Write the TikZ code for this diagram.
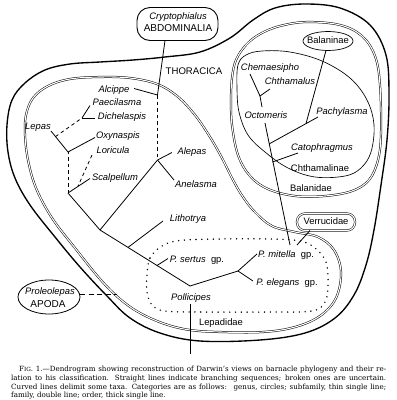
\documentclass[tikz,border=0pt]{standalone}
\usepackage{fontspec}
\newfontfamily\lab{Liberation Sans}
\newfontfamily\capfont[Ligatures=TeX]{DejaVu Serif}
\usetikzlibrary{shapes.geometric}
\begin{document}
\begin{tikzpicture}[x=1pt,y=-1pt,
  lbl/.style={inner sep=0pt, anchor=mid, font=\lab\fontsize{9.4}{10}\selectfont},
  it/.style={lbl, font=\lab\itshape\fontsize{9.4}{10}\selectfont},
  capsl/.style={lbl, font=\lab\fontsize{10}{11}\selectfont},
  branch/.style={line width=0.8pt},
  brokenbranch/.style={line width=0.8pt, dash pattern=on 3.5pt off 3pt},
  orderline/.style={line width=1.35pt},
  familyline/.style={double, double distance=1.1pt, line width=0.5pt},
  subfamline/.style={line width=0.65pt},
  genusline/.style={line width=1.6pt, dash pattern=on 0pt off 5.8pt, line cap=round},
  capline/.style={anchor=base west, inner sep=0pt, font=\capfont\fontsize{7.15}{8}\selectfont}
]
\fill[white] (0,0) rectangle (397,400);
\useasboundingbox (0,0) rectangle (397,400);

% order THORACICA (thick single line)
\draw[orderline] plot[smooth cycle, tension=0.6] coordinates {
 (200,52) (165,57) (133,60) (100,62) (70,64) (45,70) (25,83) (12,100) (7,125) (8,152)
 (15,178) (30,205) (55,237) (80,267) (107,296) (130,318) (160,333) (200,341) (260,340)
 (305,333) (335,318) (354,295) (366,265) (374,230) (381,185) (387,140) (389,95) (386,55)
 (370,25) (340,8) (305,4) (275,8) (253,20) (230,38)};

% family Lepadidae (double line)
\draw[familyline] plot[smooth cycle, tension=0.6] coordinates {
 (157,84) (130,78) (100,77) (70,79) (48,86) (33,98) (26,115) (25,135) (28,160) (36,188)
 (52,218) (75,248) (100,279) (120,299) (140,313) (165,324) (190,330) (220,332) (263,332)
 (295,327) (320,316) (336,298) (341,272) (334,250) (318,237) (295,232) (272,226) (255,212)
 (243,197) (233,180) (222,158) (210,137) (195,115) (177,96)};

% family Balanidae (double line)
\draw[familyline] plot[smooth cycle, tension=0.6] coordinates {
 (232,78) (236,60) (246,45) (260,34) (280,26) (307,22) (340,25) (362,36) (375,56) (380,85)
 (381,133) (378,160) (369,180) (352,191) (325,196) (295,196) (268,189) (250,176) (238,155)
 (232,125) (231,100)};

% subfamily Chthamalinae (thin single line)
\draw[subfamline] plot[smooth cycle, tension=0.6] coordinates {
 (238,65) (246,55) (262,51) (290,52) (322,61) (350,78) (367,100) (374,125) (371,152)
 (361,168) (345,176) (315,177) (288,168) (265,152) (248,135) (239,112) (237,88)};

% genus Pollicipes (dotted)
\draw[genusline] plot[smooth cycle, tension=0.6] coordinates {
 (147,275) (150,258) (162,246) (180,240.5) (220,239) (270,239) (300,241) (315,248)
 (326,262) (328,285) (325,302) (312,311) (270,312) (200,312) (165,311) (152,305) (147,292)};

% boxed taxa
\node[draw, line width=0.9pt, rounded corners=13pt, minimum width=81pt, minimum height=33pt, inner sep=0pt] (abdbox) at (177.5,24) {};
\node[it] (crypto) at (178,17) {Cryptophialus};
\node[capsl] (abdom) at (178,29.5) {ABDOMINALIA};

\node[draw, ellipse, line width=0.8pt, minimum width=62pt, minimum height=34pt, inner sep=0pt] (apobox) at (49,297) {};
\node[it] (prol) at (50,292) {Proleolepas};
\node[capsl] (apoda) at (48,305) {APODA};

\node[draw, ellipse, line width=0.7pt, minimum width=50pt, minimum height=19pt, inner sep=0pt] (balbox) at (328,41) {};
\node[lbl] (bal) at (328,41) {Balaninae};

\node[draw, double, double distance=1.1pt, line width=0.5pt, rounded corners=8pt, minimum width=58pt, minimum height=17pt, inner sep=0pt] (verbox) at (326,222) {};
\node[lbl] (ver) at (326,222) {Verrucidae};

% labels
\node[lbl, font=\lab\fontsize{9.6}{10}\selectfont] (thor) at (194,72) {THORACICA};
\node[it] (alc) at (114,90) {Alcippe};
\node[it] (pae) at (117,103) {Paecilasma};
\node[it] (dic) at (122,117) {Dichelaspis};
\node[it] (lep) at (38,127) {Lepas};
\node[it] (oxy) at (118,136) {Oxynaspis};
\node[it] (lor) at (113,151) {Loricula};
\node[it] (sca) at (115,178) {Scalpellum};
\node[it] (ale) at (192,152) {Alepas};
\node[it] (ane) at (196,185) {Anelasma};
\node[it] (lit) at (188,219) {Lithotrya};
\node[lbl] (ser) at (197,260) {\itshape P. sertus\upshape\ \ gp.};
\node[it] (pol) at (191,298) {Pollicipes};
\node[lbl] (mit) at (286,255) {\itshape P. mitella\upshape\ \ gp.};
\node[lbl] (ele) at (287,283) {\itshape P. elegans\upshape\ \ gp.};
\node[lbl] (lpd) at (221,323) {Lepadidae};
\node[it] (che) at (270,68) {Chemaesipho};
\node[it] (chs) at (290,82) {Chthamalus};
\node[it] (oct) at (266,116) {Octomeris};
\node[it] (pac) at (342,112) {Pachylasma};
\node[it] (cat) at (322,148) {Catophragmus};
\node[lbl] (chm) at (320,169) {Chthamalinae};
\node[lbl] (bld) at (311,189) {Balanidae};

% junctions and line ends
\coordinate (abdfoot) at (165,40.5);
\coordinate (j6) at (157.5,95);
\coordinate (alcE) at (134,88.5);
\coordinate (j5) at (157.5,160);
\coordinate (aleW) at (172,152.5);
\coordinate (aneW) at (174,180);
\coordinate (j4) at (100,230);
\coordinate (j3) at (68,193);
\coordinate (scaW) at (90,178.5);
\coordinate (lorW) at (92,155);
\coordinate (lorJ) at (78,186.2);
\coordinate (j2) at (68,152);
\coordinate (oxyW) at (95,137.5);
\coordinate (lepE) at (51,131);
\coordinate (lepD) at (55.5,136.6);
\coordinate (j1) at (82,118);
\coordinate (paeW) at (90,105.5);
\coordinate (dicW) at (95,118);
\coordinate (j7) at (190,286);
\coordinate (litJ) at (128,247.4);
\coordinate (litW) at (163,221);
\coordinate (serJ) at (157,265.5);
\coordinate (serW) at (168,258.5);
\coordinate (j8) at (238,271);
\coordinate (mitW) at (257,254);
\coordinate (eleW) at (253,281);
\coordinate (polS) at (190,304);
\coordinate (polEnd) at (190,354);
\coordinate (octS) at (265,123);
\coordinate (octEnd) at (290,245);
\coordinate (verS) at (310,230.5);
\coordinate (verEnd) at (297,245);
\coordinate (cheJ) at (260,96);
\coordinate (cheS) at (250,74);
\coordinate (chsW) at (270,89);
\coordinate (octN) at (262,107);
\coordinate (balS) at (326,50.5);
\coordinate (balJ) at (306,123.6);
\coordinate (pacJ) at (269,144);
\coordinate (pacW) at (318,117);
\coordinate (catJ) at (272.5,162);
\coordinate (catW) at (298,153);
\coordinate (apoE) at (80,294);
\coordinate (apoEnd) at (117,294);

% branches
\draw[branch] (abdfoot) -- (j6);
\draw[branch] (alcE) -- (j6);
\draw[brokenbranch] (j6) -- (j5);
\draw[branch] (j5) -- (aleW);
\draw[branch] (j5) -- (aneW);
\draw[branch] (j5) -- (j4);
\draw[branch] (j4) -- (j3);
\draw[branch] (j3) -- (scaW);
\draw[brokenbranch] (lorW) -- (lorJ);
\draw[brokenbranch] (j3) -- (j2);
\draw[branch] (j2) -- (oxyW);
\draw[branch] (lepE) -- (j2);
\draw[brokenbranch] (lepD) -- (j1);
\draw[branch] (j1) -- (paeW);
\draw[branch] (j1) -- (dicW);
\draw[branch] (j4) -- (j7);
\draw[branch] (litJ) -- (litW);
\draw[branch] (serJ) -- (serW);
\draw[branch] (j7) -- (j8);
\draw[branch] (j8) -- (mitW);
\draw[branch] (j8) -- (eleW);
\draw[branch] (polS) -- (polEnd);
\draw[branch] (octS) -- (octEnd);
\draw[branch] (verS) -- (verEnd);
\draw[branch] (cheS) -- (cheJ);
\draw[branch] (cheJ) -- (chsW);
\draw[branch] (cheJ) -- (octN);
\draw[branch] (balS) -- (balJ);
\draw[branch] (pacJ) -- (pacW);
\draw[branch] (catJ) -- (catW);
\draw[line width=0.8pt, dash pattern=on 5pt off 3.5pt] (apoE) -- (apoEnd);

% caption
\node[capline] (cap1) at (11,371.5) {\makebox[375pt][s]{\hspace*{8pt}F{\fontsize{5.7}{6}\selectfont IG}. 1.---Dendrogram showing reconstruction of Darwin's views on barnacle phylogeny and their re-}};
\node[capline] (cap2) at (11,380.3) {\makebox[375pt][s]{lation to his classification. Straight lines indicate branching sequences; broken ones are uncertain.}};
\node[capline] (cap3) at (11,389) {\makebox[375pt][s]{Curved lines delimit some taxa. Categories are as follows: \ genus, circles; subfamily, thin single line;}};
\node[capline] (cap4) at (11,397.5) {family, double line; order, thick single line.};
\end{tikzpicture}
\end{document}
